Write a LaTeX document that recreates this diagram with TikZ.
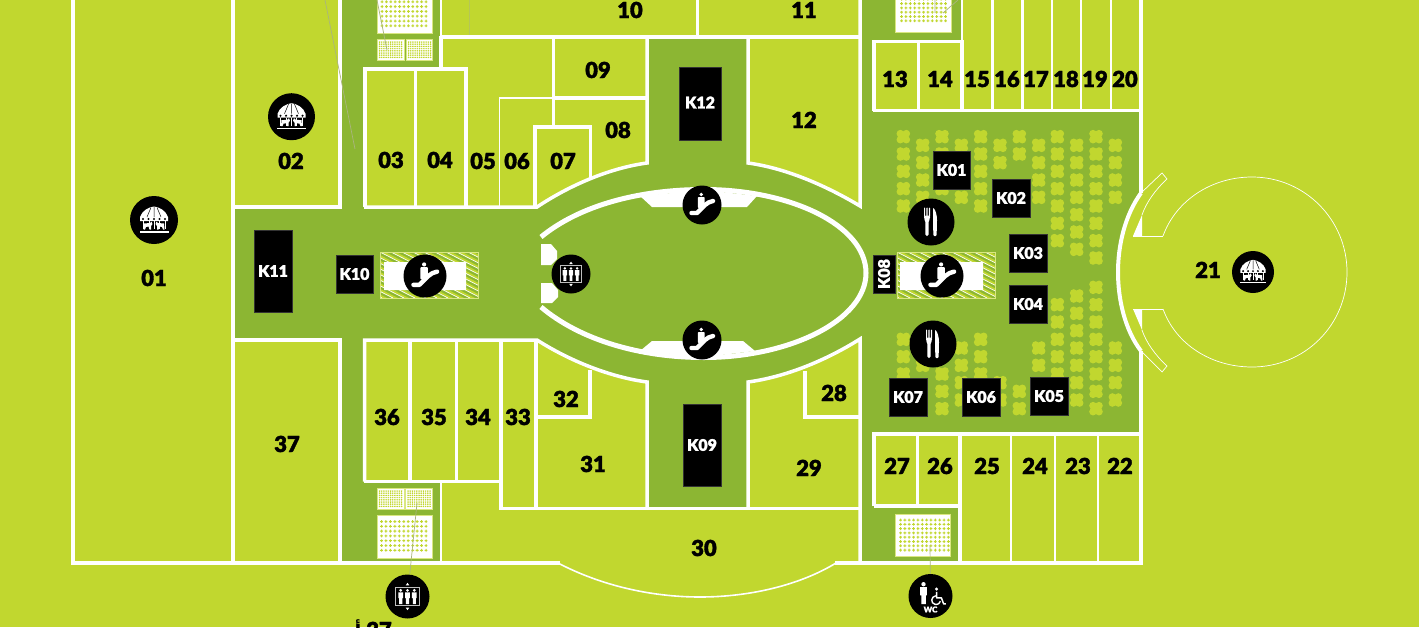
\documentclass[tikz,border=0pt]{standalone}
\usepackage{fontspec}
\setmainfont{Lato}[BoldFont={Lato Black},BoldFeatures={FakeBold=1.6}]
\newfontfamily\arabicfont[Script=Arabic]{DejaVu Sans}
\TeXXeTstate=1
\definecolor{lime}{HTML}{C1D72F}
\definecolor{park}{HTML}{8CB633}
\definecolor{lead}{HTML}{A9B57E}
\tikzset{
 wall/.style={draw=white,line width=3.5pt,line join=miter,line cap=butt},
 thinwall/.style={draw=white,line width=1.6pt},
 hair/.style={draw=white,line width=0.7pt},
 leader/.style={draw=lead,line width=0.7pt},
 unit/.style={font=\bfseries\fontsize{22}{22}\selectfont,text=black,inner sep=0pt,text height=16pt,text depth=0pt},
 kbox/.style={fill=black,text=white,font=\bfseries\fontsize{16}{16}\selectfont,inner sep=0pt,draw=black!80,line width=.3pt},
 icbg/.style={circle,fill=black,inner sep=0pt,draw=none},
 clv/.style={fill=lime},
}
\newcommand\iconbg[4]{\node[icbg,minimum size={2*#4*1pt}] (#1) at (#2,#3) {};}
\newcommand\kiosk[6]{\node[kbox,minimum width={(#4-#2)*1pt},minimum height={(#5-#3)*1pt}] (#1) at ({(#2+#4)/2},{(#3+#5)/2}) {#6};}
\newcommand\clover[2]{\fill[clv,shift={(#1,#2)}] (-3,-3) circle (3.8) (3,-3) circle (3.8) (-3,3) circle (3.8) (3,3) circle (3.8) (0,0) circle (3.4);}
\newcommand\person[3]{\fill[white,shift={(#1,#2)},scale=#3] (0,-6.2) circle (1.45) (-2.3,-4.3) rectangle (2.3,1.2) (-1.5,1) rectangle (1.5,7);}
\newcommand\dotgrid[9]{%
 \fill[white,draw=lime!60!white,line width=.5pt] (#1,#2) rectangle (#3,#4);
 \foreach \i in {0,...,#7}{\foreach \j in {0,...,#8}{%
  \fill[lime,shift={(#5+\i*#9,#6+\j*\dotstep)}] (-\dotr,-\dotq) rectangle (\dotr,\dotq) (-\dotq,-\dotr) rectangle (\dotq,\dotr);}}}
\newcommand\carousel[3]{\begin{scope}[shift={(#1,#2)},scale=#3]
 \fill[white] (-14,-3) .. controls (-12,-9.5) and (-5,-13) .. (0,-13.5) .. controls (5,-13) and (12,-9.5) .. (14,-3) -- (14,1) -- (-14,1) -- cycle;
 \draw[black,line width=.5pt] (0,-13) -- (0,-3) (-3,-12.5) -- (-7,-3) (3,-12.5) -- (7,-3);
 \foreach \a in {-11,-5.5,0,5.5,11}{\fill[black] (\a,-1) circle (1.2);}
 \draw[white,line width=.8pt] (-11,1) -- (-11,9) (-5,1) -- (-5,9) (0,1) -- (0,9) (5,1) -- (5,9) (11,1) -- (11,9);
 \fill[white] (-10,3.5) -- (-4,3) -- (-2.5,1.5) -- (-1.5,4) -- (-3,6) -- (-3,9.5) -- (-4.5,9.5) -- (-5.5,6.5) -- (-8,7) -- (-9,9.5) -- (-10.5,9.5) -- cycle;
 \fill[white] (10,3.5) -- (4,3) -- (2.5,1.5) -- (1.5,4) -- (3,6) -- (3,9.5) -- (4.5,9.5) -- (5.5,6.5) -- (8,7) -- (9,9.5) -- (10.5,9.5) -- cycle;
 \fill[white] (-14.5,11) rectangle (14.5,12.6);
\end{scope}}
\newcommand\escal[3]{\begin{scope}[shift={(#1,#2)},scale=#3]
 \fill[white] (-.8,-10.5) circle (1.9);
 \fill[white,rounded corners=.8pt] (-4.2,-8) -- (2.6,-8) -- (2.6,-.5) -- (-1,3) -- (-4.2,3) -- cycle;
 \draw[white,line width=4.4pt,line cap=round,line join=round] (-10.5,8) -- (-5,8) -- (3,0) .. controls (5,-2) and (8,-3.5) .. (11,-4);
\end{scope}}
\newcommand\lift[3]{\begin{scope}[shift={(#1,#2)},scale=#3]
 \draw[white!75!black,line width=.9pt] (-11.5,-8.5) rectangle (11.5,8.5);
 \person{-6.5}{.3}{1}\person{0}{.3}{1}\person{6.5}{.3}{1}
 \fill[white] (-1.8,-10.5) -- (0,-13) -- (1.8,-10.5) -- cycle (-1.8,10.5) -- (0,13) -- (1.8,10.5) -- cycle;
\end{scope}}
\newcommand\cutlery[3]{\begin{scope}[shift={(#1,#2)},scale=#3]
 \fill[white,rounded corners=.6pt] (-7,-14.5) rectangle (-5.9,-5) (-4.6,-14.5) rectangle (-3.4,-5) (-2.1,-14.5) rectangle (-1,-5);
 \fill[white,rounded corners=1.5pt] (-7,-6.5) -- (-1,-6.5) -- (-1,-3) -- (-2.4,-1.5) -- (-2.4,14) -- (-5.6,14) -- (-5.6,-1.5) -- (-7,-3) -- cycle;
 \fill[white,rounded corners=1pt] (2,-14.5) .. controls (4.5,-12) and (6,-7) .. (6,-1) -- (5.6,14) -- (2.4,14) -- (2,0) -- cycle;
\end{scope}}
\begin{document}
\begin{tikzpicture}[x=1pt,y=-1pt]
\useasboundingbox (0,0) rectangle (1419,627);
\clip (0,0) rectangle (1419,627);
\fill[lime] (0,0) rectangle (1419,627);
% circulation
\fill[park] (233,207) -- (340,207) -- (340,0) -- (441,0) -- (441,68) -- (364,68) -- (364,207) -- (537,207)
 .. controls (570,185) and (610,168) .. (647,163) -- (647,37) -- (748,37) -- (748,163)
 .. controls (785,168) and (825,185) .. (860,206) -- (860,0) -- (961,0) -- (961,41) -- (874,41) -- (874,111) -- (1141,111) -- (1141,193)
 .. controls (1125,215) and (1118,245) .. (1118,272) .. controls (1118,300) and (1125,330) .. (1141,351)
 -- (1141,433) -- (874,433) -- (874,506) -- (960,506) -- (960,563) -- (860,563) -- (860,339)
 .. controls (825,360) and (785,377) .. (748,382) -- (748,508) -- (647,508) -- (647,382)
 .. controls (610,377) and (570,360) .. (537,339) -- (364,339) -- (364,481) -- (441,481) -- (441,563) -- (340,563) -- (340,339) -- (233,339) -- cycle;
% planting
\foreach \zx/\ys in {130/{80,132,184,236,288,688,740,792},188/{106,158,210,262,714,766},246/{80,132,184,236,792,844,896},304/{106,158,210,262,714,766,818,870},362/{80,132,184,236,288,688,740,792},420/{106,158,818,870},478/{80,132,844,896},536/{106,158,210,262,714,766},592/{80,132,184,236,288,340,392,584,636,688,740,792,844,896},650/{106,158,210,262,314,366,418,558,610,662,714,766,818,870},708/{80,132,184,236,288,340,392,444,532,584,636,688,740,792,844,896},766/{106,158,210,262,714,766,818,870}}{
 \foreach \zy in \ys {\clover{860+\zx/3}{110+\zy/3}}}
% walls
\draw[wall] (73,-5) -- (73,563) -- (560,563) (835,563) -- (1141,563) -- (1141,351);
\draw[wall] (1141,193) -- (1141,-5);
\draw[wall,line width=4pt] (1141,193) .. controls (1125,215) and (1118,245) .. (1118,272) .. controls (1118,300) and (1125,330) .. (1141,351);
\draw[wall] (233,-5) -- (233,563) (233,207) -- (340,207) -- (340,-5) (233,340) -- (340,340) -- (340,563);
\draw[wall] (365,207) -- (365,69) -- (466,69) -- (466,207) (415.5,69) -- (415.5,207);
\draw[wall] (364,207) -- (537,207) .. controls (570,185) and (610,168) .. (647,163) -- (647,37);
\draw[wall] (748,37) -- (748,163) .. controls (785,168) and (825,185) .. (860,206) -- (860,-5);
\draw[wall] (441,37) -- (860,37) (441,36) -- (441,69) (697.5,37) -- (697.5,-5);
\draw[wall,line width=2.6pt] (441,0) -- (441,36);
\draw[wall] (553.5,37) -- (553.5,127) (553.5,98) -- (647,98);
\draw[thinwall] (499.5,207) -- (499.5,98) -- (553,98);
\draw[wall] (535,207) -- (535,127) -- (590.5,127) -- (590.5,178);
\draw[wall] (874,111) -- (874,41.5) -- (962,41.5) -- (962,111) (918.5,41.5) -- (918.5,111);
\draw[wall] (873,110.5) -- (1141,110.5);
\draw[wall,line width=2.6pt] (992.5,0) -- (992.5,110) (1022.5,0) -- (1022.5,110) (1052,0) -- (1052,110) (1081,0) -- (1081,110) (1111,0) -- (1111,110) (962,0) -- (962,41);
\draw[wall] (874,506) -- (874,434) -- (1141,434) (874,506) -- (960,506) (917.5,434) -- (917.5,506) (960,434) -- (960,563);
\draw[wall,line width=2.6pt] (1011,434) -- (1011,563) (1055,434) -- (1055,563) (1098,434) -- (1098,563);
\draw[wall] (364.5,481.5) -- (364.5,340) -- (537,340) .. controls (570,361) and (610,377) .. (647,382) -- (647,508);
\draw[wall] (364,481.5) -- (501,481.5) (410,340) -- (410,481.5) (456.5,340) -- (456.5,481.5) (501,340) -- (501,508.5) -- (860,508.5);
\draw[wall] (536,340) -- (536,508) (536,417) -- (590,417) -- (590,370);
\draw[wall] (748,508) -- (748,382) .. controls (785,377) and (825,361) .. (860,339) -- (860,563);
\draw[wall] (860,417) -- (805,417) -- (805,371);
\draw[thinwall] (441,482) -- (441,563);
\draw[thinwall] (558,563) .. controls (600,585) and (650,597) .. (700,597) .. controls (750,597) and (800,585) .. (836,563);
% rotunda
\draw[hair] (1163,236) .. controls (1176,200) and (1212,177) .. (1252,177) .. controls (1305,177) and (1347,220) .. (1347,272) .. controls (1347,325) and (1305,367) .. (1252,367) .. controls (1212,367) and (1176,345) .. (1163,309);
\draw[hair] (1133,236) -- (1163,236) (1133,309) -- (1163,309);
\draw[hair] (1141,193) -- (1162,173) -- (1167,179) .. controls (1155,190) and (1146,203) .. (1142,215);
\draw[hair] (1141,351) -- (1162,372) -- (1167,366) .. controls (1155,355) and (1146,342) .. (1142,330);
\fill[white] (1133,236) -- (1142,236) -- (1142,215) -- cycle (1133,309) -- (1142,309) -- (1142,330) -- cycle;
% atrium
\fill[white] (640,196) -- (652,207) -- (747,207) -- (757,196) -- (704,190) -- cycle (640,351) -- (652,341) -- (743,341) -- (755,351) -- (704,357) -- cycle;
\draw[wall,line width=5pt] (541,237) .. controls (580,205) and (640,189.5) .. (704,189.5) .. controls (790,189.5) and (866,225) .. (866,273) .. controls (866,320) and (790,357.5) .. (704,357.5) .. controls (640,357.5) and (580,340) .. (541,307);
\fill[white] (541,244) -- (551,244) -- (557,251) -- (557,259) -- (551,265) -- (541,265) -- cycle (541,283) -- (552,283) -- (558,290) -- (558,297) -- (552,303) -- (541,303) -- cycle;
% toilet blocks
\def\dotstep{4.8}\def\dotr{1.4}\def\dotq{.5}
\dotgrid{377}{-8}{432.5}{33}{382}{-3}{10}{6}{4.4}
\dotgrid{377}{515}{432.5}{558}{381.5}{521.5}{10}{6}{4.45}
\def\dotstep{4.3}
\dotgrid{895}{-8}{951}{32}{901.5}{-5}{10}{6}{4.4}
\dotgrid{895}{514}{950}{556}{900.5}{520}{11}{7}{4.35}
\def\dotstep{2.2}\def\dotr{.75}\def\dotq{.35}
\dotgrid{377}{39.5}{404}{60}{379.5}{42}{10}{7}{2.2}
\dotgrid{406}{39.5}{432.5}{60}{408.5}{42}{10}{7}{2.2}
\dotgrid{377}{488}{404}{509}{379.5}{491}{10}{7}{2.2}
\dotgrid{405.5}{488}{432.5}{509}{408}{491}{10}{7}{2.2}
% escalator wells
\foreach \ox in {380,897}{
 \begin{scope}
 \clip (\ox,252) rectangle (\ox+98,298);
 \foreach \k in {-12,...,12}{\fill[lime] (\ox+\k*11,252) -- (\ox+\k*11+5,252) -- (\ox+\k*11+5+90,298) -- (\ox+\k*11+90,298) -- cycle;}
 \foreach \k in {-12,...,12}{\draw[white,line width=.7pt] (\ox+\k*11,252) -- (\ox+\k*11+90,298);}
 \end{scope}
 \draw[white!40!lime,line width=.7pt] (\ox,252) rectangle (\ox+98,298);
}
\fill[white] (384,262) rectangle (466,290) (900,262) rectangle (983,290);
% kiosks
\kiosk{k11}{254}{230}{292}{312}{K11}
\kiosk{k10}{336}{255}{373}{293}{K10}
\kiosk{k12}{679}{67}{721}{140}{\raisebox{2pt}{K12}}
\kiosk{k09}{683}{404}{721}{486}{K09}
\node[kbox,minimum width=22pt,minimum height=38pt] (k08) at (884,274) {\rotatebox{90}{K08}};
\kiosk{k01}{933}{151}{970}{189}{K01}
\kiosk{k02}{992}{179}{1030}{217}{K02}
\kiosk{k03}{1009}{234}{1047}{272}{K03}
\kiosk{k04}{1009}{285}{1047}{323}{K04}
\kiosk{k05}{1030}{377}{1068}{415}{K05}
\kiosk{k06}{962}{378}{1000}{416}{K06}
\kiosk{k07}{889}{378}{927}{416}{K07}
% leaders
\coordinate (l1a) at (325,0); \coordinate (l1b) at (355,149);
\coordinate (l2a) at (377,0); \coordinate (l2b) at (387,50);
\coordinate (l3a) at (958,0); \coordinate (l3b) at (943,13);
\coordinate (l4a) at (935,0); \coordinate (l4b) at (935,13);
\coordinate (l5a) at (469,0); \coordinate (l5b) at (469,35);
\coordinate (l6) at (417,503); \coordinate (l7) at (930,545);
\draw[leader] (l1a) -- (l1b) (l2a) -- (l2b) (l3a) -- (l3b) (l4a) -- (l4b);
\draw[draw=lead!50!lime,line width=.5pt] (l5a) -- (l5b);
% icons
\iconbg{c01}{154}{220}{24}\carousel{154}{220}{1}
\iconbg{c02}{291.5}{116.7}{23.5}\carousel{291.5}{116.7}{1}
\iconbg{c21}{1253}{272}{21}\carousel{1253}{272}{.9}
\iconbg{e1}{425}{276}{21.5}\escal{425}{276}{1.1}
\iconbg{e2}{942}{276}{21.5}\escal{942}{276}{1.1}
\iconbg{e3}{702}{205}{19.5}\escal{702}{205}{1}
\iconbg{e4}{702}{340}{19.5}\escal{702}{340}{1}
\iconbg{f1}{931}{222}{23.5}\cutlery{931}{222}{1}
\iconbg{f2}{933}{344}{23.5}\cutlery{933}{344}{1}
\iconbg{l1}{571}{274}{19.5}\lift{571}{274}{.95}
\iconbg{l2}{407.5}{596.5}{22}
\iconbg{wc}{930.5}{596}{22}
\draw[leader] (l6) -- (l2);
\draw[leader] (l7) -- (wc);
\lift{407.5}{596.5}{1.05}
\person{923.5}{593.5}{1.5}
\begin{scope}[shift={(936.5,599)},scale=1.1]
 \draw[white,line width=1.4pt] (-.5,-3) .. controls (-5,-2.5) and (-6,4) .. (-1,5) .. controls (2,5) and (3,3.5) .. (3.5,2);
 \draw[white,line width=1.5pt,line join=round] (0,-6.5) -- (0,-1) -- (4.5,-1) -- (6.5,4.5) -- (8.5,4.5);
 \fill[white] (0,-9) circle (1.5);
\end{scope}
\node[text=white,font=\bfseries\fontsize{8}{8}\selectfont,inner sep=0pt] (wct) at (930.5,609.5) {WC};
% units
\foreach \nm/\px/\py in {01/154/278,02/291/161,03/391/160,04/440/160,05/483/161,06/517/161,07/563/161,08/618/130,09/598/70,10/630/10,11/804/10,12/804/120,13/895/79,14/940/79,15/977/79,16/1007/79,17/1036/79,18/1066/79,19/1095/79,20/1125/79,21/1208/270,22/1120/466,23/1078/466,24/1035/466,25/987/466,26/940/466,27/897/466,28/834/393,29/809/468,30/704/548,31/593/464,32/566/399,33/518/417,34/478/417,35/434/417,36/387/417,37/287/444}{
 \node[unit] (u\nm) at (\px,\py) {\nm};}
\node[unit] (ucut) at (379,630) {37};
\node[text=black,inner sep=0pt,font=\arabicfont\bfseries\fontsize{20}{20}\selectfont] (acut) at (358,630) {\beginR أ\endR};
\end{tikzpicture}
\end{document}
